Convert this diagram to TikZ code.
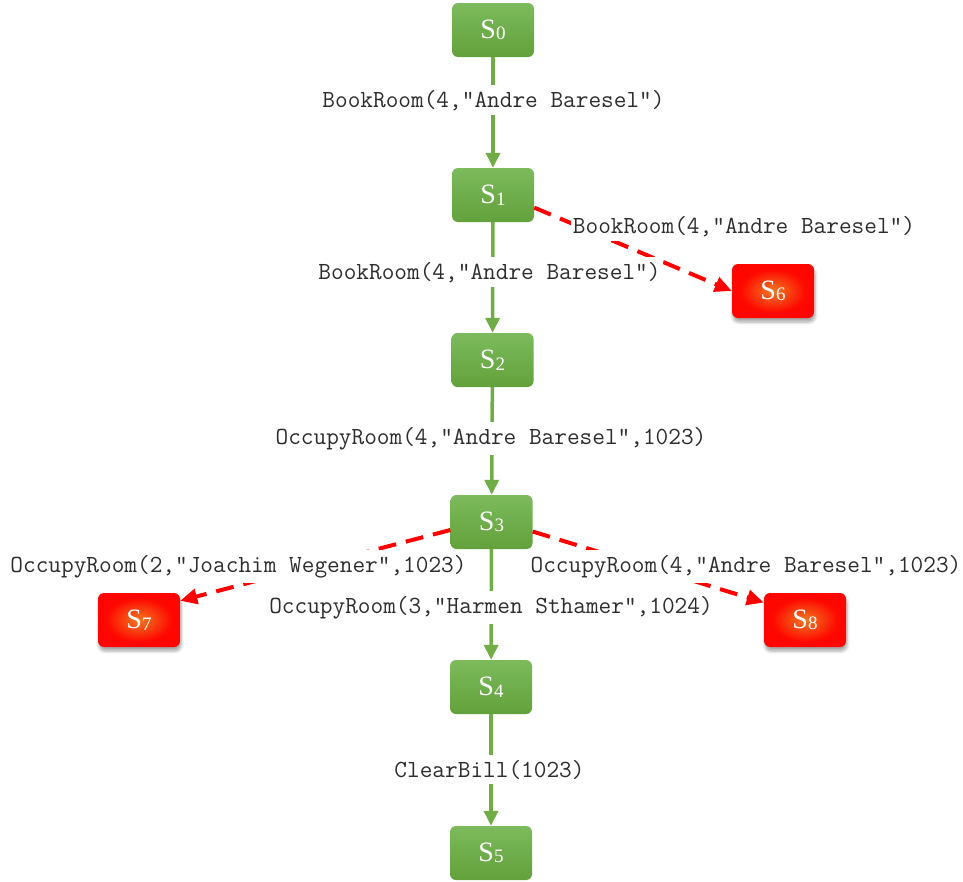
\documentclass[tikz,border=0pt]{standalone}
\usepackage{fontspec}
\setmainfont{Liberation Serif}
\usetikzlibrary{arrows.meta,shadows.blur}

\definecolor{gtop}{RGB}{124,186,92}
\definecolor{gbot}{RGB}{98,161,58}
\definecolor{gline}{RGB}{112,173,71}
\definecolor{lbltxt}{RGB}{45,45,45}

% orange glow fading to red for the rejected states
\pgfdeclareradialshading{redglow}{\pgfpoint{0bp}{0bp}}{%
  color(0bp)=(rgb,255:red,240;green,120;blue,36);
  color(7bp)=(rgb,255:red,246;green,82;blue,20);
  color(20bp)=(rgb,255:red,255;green,8;blue,0);
  color(50bp)=(red)}

% state name with a small trailing index
\newcommand{\stlabel}[1]{S\kern0.3pt{\fontsize{19}{19}\selectfont\raisebox{-1.5pt}{#1}}}

\tikzset{
  statebox/.style={rectangle, rounded corners=6pt, minimum width=82pt,
    minimum height=54pt, inner sep=0pt, text=white,
    font=\fontsize{28}{28}\selectfont},
  okstate/.style={statebox, top color=gtop, bottom color=gbot},
  badstate/.style={statebox, shading=redglow,
    blur shadow={shadow xshift=1pt, shadow yshift=-4pt, shadow opacity=35,
      shadow blur steps=6, shadow blur radius=3pt}},
  goodstep/.style={draw=gline, line width=3.5pt,
    -{Triangle[length=15pt,width=14pt]}},
  badstep/.style={draw=red, line width=4pt, dash pattern=on 18pt off 10pt,
    -{Triangle[length=17pt,width=15pt]}},
  call/.style={fill=white, inner xsep=2pt, inner ysep=5pt, anchor=base,
    text=lbltxt, font=\ttfamily\fontsize{24.6}{24.6}\selectfont}
}

\begin{document}
\begin{tikzpicture}[x=1pt,y=-1pt]
\useasboundingbox (0,0) rectangle (963,881);

% states
\node[okstate]  (s0) at (493,30)  {\stlabel{0}};
\node[okstate]  (s1) at (493,195) {\stlabel{1}};
\node[okstate]  (s2) at (492.5,360) {\stlabel{2}};
\node[okstate]  (s3) at (491.5,522) {\stlabel{3}};
\node[okstate]  (s4) at (491,687) {\stlabel{4}};
\node[okstate]  (s5) at (491,853) {\stlabel{5}};
\node[badstate] (s6) at (773,291) {\stlabel{6}};
\node[badstate] (s7) at (139,620) {\stlabel{7}};
\node[badstate] (s8) at (805,620) {\stlabel{8}};

% accepted transitions
\draw[goodstep] (s0) -- (s1);
\draw[goodstep] (s1) -- (s2);
\draw[goodstep] (s2) -- (s3);
\draw[goodstep] (s3) -- (s4);
\draw[goodstep] (s4) -- (s5);

% rejected transitions
\draw[badstep] (s1.-17.6) -- (s6.west);
\draw[badstep] (s3.191) -- (s7.25);
\draw[badstep] (s3.-13.5) -- (s8.157);

% transition labels
\node[call] (c01) at (493.5,107) {BookRoom(4,"Andre Baresel")};
\node[call] (c12) at (489.5,279) {BookRoom(4,"Andre Baresel")};
\node[call] (c16) at (744,233)   {BookRoom(4,"Andre Baresel")};
\node[call] (c23) at (491,444)   {OccupyRoom(4,"Andre Baresel",1023)};
\node[call] (c37) at (238.5,572) {OccupyRoom(2,"Joachim Wegener",1023)};
\node[call] (c38) at (746,572)   {OccupyRoom(4,"Andre Baresel",1023)};
\node[call] (c34) at (491,613)   {OccupyRoom(3,"Harmen Sthamer",1024)};
\node[call] (c45) at (489.5,777) {ClearBill(1023)};
\end{tikzpicture}
\end{document}
